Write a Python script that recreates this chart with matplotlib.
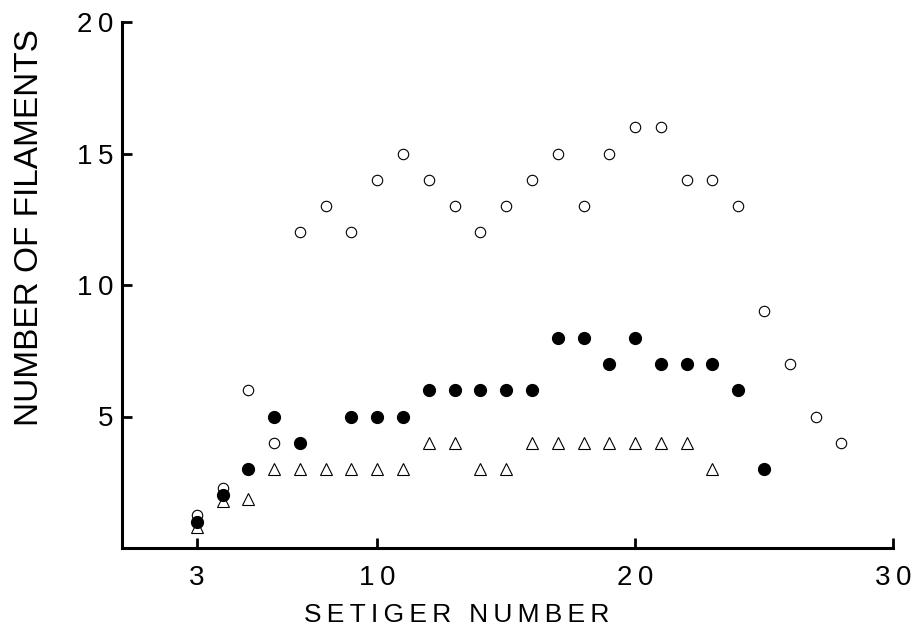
import matplotlib
matplotlib.use("Agg")
import matplotlib.pyplot as plt

plt.rcParams.update({
    "font.family": ["Liberation Sans", "DejaVu Sans"],
    "font.size": 20,
})

THIN = "\u2009"

# open circles (upper series)
open_x = [3, 4, 5, 6, 7, 8, 9, 10, 11, 12, 13, 14, 15, 16, 17, 18, 19, 20,
          21, 22, 23, 24, 25, 26, 27, 28]
open_y = [1.25, 2.3, 6, 4, 12, 13, 12, 14, 15, 14, 13, 12, 13, 14, 15, 13, 15, 16,
          16, 14, 14, 13, 9, 7, 5, 4]

# filled circles
filled_x = [3, 4, 5, 6, 7, 9, 10, 11, 12, 13, 14, 15, 16, 17, 18, 19, 20,
            21, 22, 23, 24, 25]
filled_y = [1.0, 2.0, 3, 5, 4, 5, 5, 5, 6, 6, 6, 6, 6, 8, 8, 7, 8,
            7, 7, 7, 6, 3]

# open triangles
tri_x = [3, 4, 5, 6, 7, 8, 9, 10, 11, 12, 13, 14, 15, 16, 17, 18, 19, 20,
         21, 22, 23]
tri_y = [0.8, 1.8, 1.85, 3, 3, 3, 3, 3, 3, 4, 4, 3, 3, 4, 4, 4, 4, 4,
         4, 4, 3]

x_ticks = [3, 10, 20, 30]
y_ticks = [5, 10, 15, 20]


def spaced(s):
    return THIN.join(s)


fig = plt.figure(figsize=(9.19, 6.38), dpi=100)
ax = fig.add_axes([122 / 919, 1 - 548 / 638, (893 - 122) / 919, (548 - 22) / 638])

ax.plot(tri_x, tri_y, linestyle="none", marker="^", markersize=8,
        markerfacecolor="white", markeredgecolor="black", markeredgewidth=0.8, zorder=2)
ax.plot(open_x, open_y, linestyle="none", marker="o", markersize=7.5,
        markerfacecolor="white", markeredgecolor="black", markeredgewidth=0.8, zorder=3)
ax.plot(filled_x, filled_y, linestyle="none", marker="o", markersize=8.5,
        markerfacecolor="black", markeredgecolor="black", zorder=4)

ax.set_xlim(0.1, 30)
ax.set_ylim(0, 20)
for side in ("top", "right"):
    ax.spines[side].set_visible(False)
for side in ("left", "bottom"):
    ax.spines[side].set_linewidth(2.2)

ax.set_xticks(x_ticks, labels=[spaced(str(t)) for t in x_ticks])
ax.set_yticks(y_ticks, labels=[spaced(str(t)) for t in y_ticks])
ax.tick_params(axis="both", direction="in", length=7, width=2, labelsize=20)
ax.tick_params(axis="x", pad=12)
ax.tick_params(axis="y", pad=6)

fig.text(457 / 919, (638 - 622) / 638, spaced("SETIGER NUMBER"), ha="center",
         va="baseline", fontsize=19)
fig.text(30 / 919, 1 - 228 / 638, "NUMBER OF FILAMENTS", ha="center", va="center",
         rotation=90, fontsize=24)

fig.savefig("out.png", dpi=100)
